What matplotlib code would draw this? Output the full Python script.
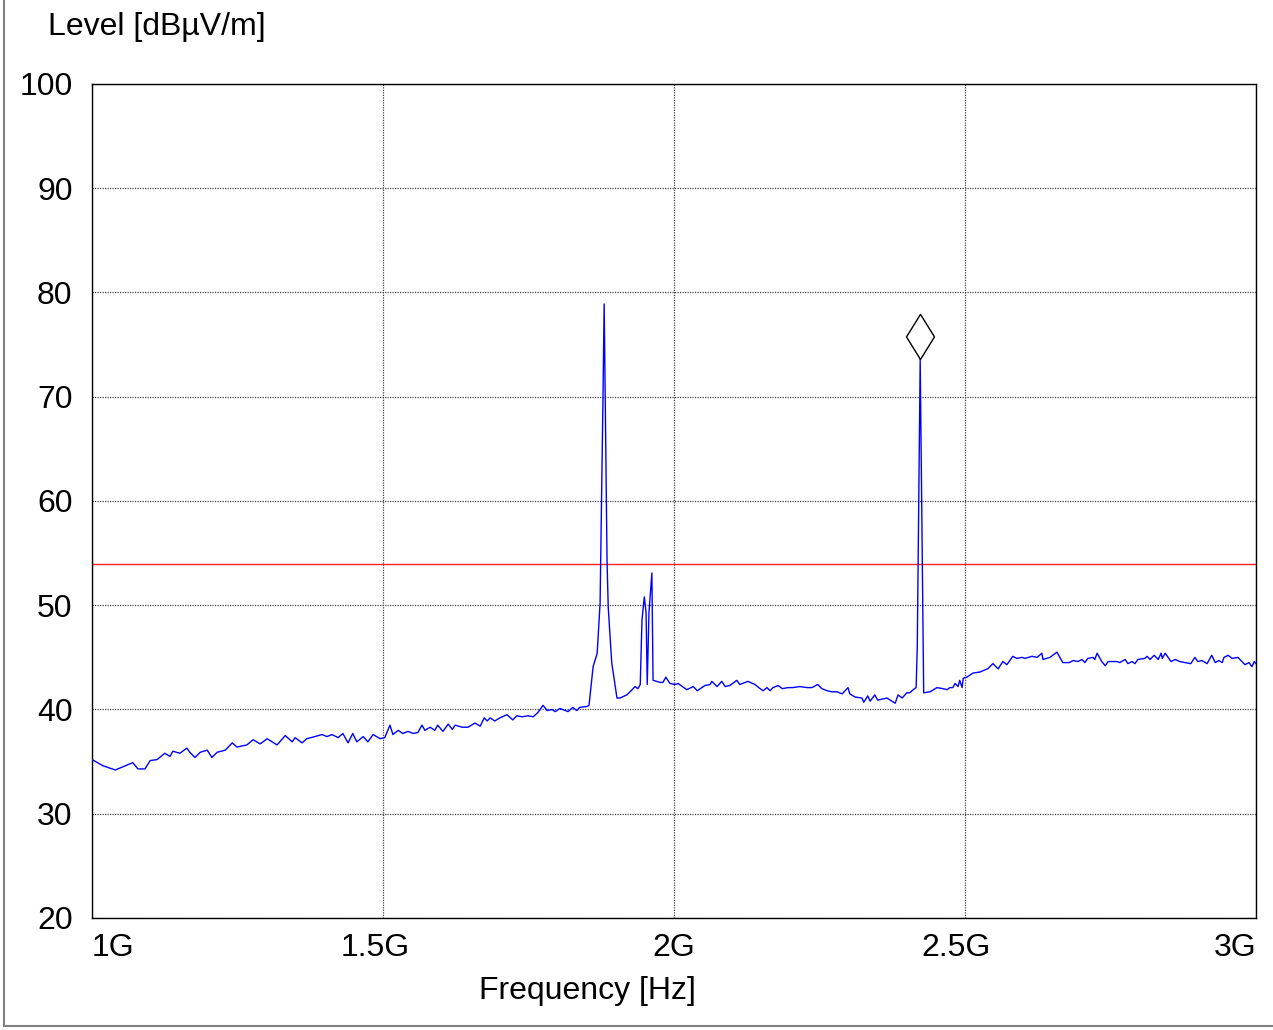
import numpy as np
import matplotlib
matplotlib.use("Agg")
import matplotlib.pyplot as plt
from matplotlib.path import Path
from matplotlib.lines import Line2D
import matplotlib.transforms as mtransforms

plt.rcParams['font.family'] = ['Liberation Sans', 'DejaVu Sans']

# measured spectrum: frequency [MHz] / level [dBuV/m]
freq_mhz = [
    1000, 1019, 1040, 1053, 1070, 1079, 1091, 1100, 1112, 1125, 1134, 1139, 1151, 1163, 1168, 1177, 1186, 1198,
    1206, 1215, 1229, 1241, 1249, 1266, 1277, 1289, 1301, 1318, 1332, 1344, 1349, 1361, 1369, 1383, 1395,
    1404, 1412, 1423, 1431, 1440, 1448, 1455, 1466, 1474, 1483, 1495, 1503, 1512, 1517, 1526, 1534, 1543,
    1552, 1560, 1567, 1572, 1581, 1589, 1594, 1603, 1612, 1619, 1624, 1636, 1646, 1658, 1667, 1674, 1679,
    1684, 1692, 1701, 1713, 1723, 1730, 1739, 1749, 1758, 1766, 1775, 1782, 1790, 1796, 1804, 1813, 1818,
    1826, 1833, 1838, 1851, 1854, 1861, 1868, 1873, 1878, 1880, 1885, 1887, 1893, 1902, 1907, 1919, 1928,
    1933, 1938, 1942, 1945, 1949, 1952, 1954, 1957, 1962, 1964, 1976, 1981, 1986, 1993, 2002, 2007, 2022,
    2033, 2040, 2053, 2062, 2065, 2074, 2082, 2088, 2096, 2108, 2113, 2127, 2139, 2148, 2153, 2160, 2165,
    2170, 2179, 2186, 2196, 2204, 2216, 2229, 2237, 2247, 2254, 2263, 2271, 2280, 2289, 2299, 2302, 2311,
    2323, 2326, 2333, 2337, 2345, 2350, 2366, 2380, 2385, 2392, 2400, 2405, 2411, 2416, 2418, 2423, 2429,
    2440, 2452, 2462, 2469, 2474, 2479, 2483, 2488, 2491, 2495, 2497, 2503, 2514, 2526, 2534, 2539, 2548,
    2557, 2565, 2572, 2582, 2589, 2598, 2603, 2615, 2624, 2632, 2634, 2646, 2658, 2668, 2679, 2686, 2694,
    2701, 2706, 2711, 2720, 2723, 2727, 2735, 2741, 2746, 2761, 2766, 2775, 2780, 2787, 2792, 2797, 2809,
    2813, 2818, 2825, 2832, 2837, 2839, 2844, 2854, 2861, 2869, 2878, 2888, 2895, 2900, 2907, 2916, 2924,
    2930, 2936, 2942, 2945, 2952, 2959, 2969, 2981, 2988, 2993, 2997, 3000,
]
level_db = [
    35.2, 34.6, 34.2, 34.5, 34.9, 34.3, 34.3, 35.1, 35.2, 35.8, 35.5, 36.0, 35.8, 36.3, 35.9, 35.4, 35.9, 36.1,
    35.4, 35.9, 36.1, 36.8, 36.4, 36.6, 37.1, 36.7, 37.2, 36.6, 37.5, 36.9, 37.3, 36.8, 37.2, 37.4, 37.6,
    37.4, 37.6, 37.3, 37.7, 36.8, 37.7, 36.9, 37.4, 36.9, 37.6, 37.2, 37.3, 38.5, 37.6, 38.0, 37.7, 37.9,
    37.7, 37.8, 38.5, 38.0, 38.3, 38.0, 38.5, 37.9, 38.6, 38.1, 38.5, 38.3, 38.3, 38.7, 38.4, 39.2, 38.9,
    39.2, 38.9, 39.2, 39.5, 39.0, 39.4, 39.3, 39.4, 39.3, 39.7, 40.4, 39.9, 40.0, 39.8, 40.1, 39.9, 39.8,
    40.2, 39.9, 40.2, 40.3, 40.4, 44.1, 45.4, 50.2, 70.0, 78.9, 54.1, 49.8, 44.5, 41.1, 41.1, 41.4, 41.9,
    42.2, 42.0, 42.4, 48.6, 50.8, 49.3, 42.4, 49.3, 53.1, 42.8, 42.6, 42.6, 43.1, 42.5, 42.4, 42.5, 41.9,
    42.2, 41.8, 42.3, 42.4, 42.7, 42.2, 42.7, 42.2, 42.3, 42.8, 42.4, 42.7, 42.4, 42.0, 41.8, 42.1, 41.8,
    42.1, 42.3, 42.0, 42.1, 42.1, 42.2, 42.1, 42.1, 42.4, 42.0, 41.8, 41.7, 41.7, 41.5, 42.1, 41.5, 41.2,
    41.1, 40.7, 41.3, 40.8, 41.4, 40.9, 41.1, 40.6, 41.4, 41.1, 41.6, 41.6, 41.9, 42.1, 46.0, 73.6, 41.6,
    41.7, 42.1, 42.0, 41.9, 42.1, 42.1, 42.5, 42.2, 42.8, 42.1, 43.0, 43.1, 43.5, 43.6, 43.8, 43.9, 44.4,
    43.9, 44.6, 44.3, 45.1, 44.9, 45.0, 44.9, 45.1, 45.0, 45.4, 44.8, 45.0, 45.5, 44.5, 44.5, 44.7, 44.6,
    44.8, 44.5, 44.9, 45.0, 44.8, 45.4, 44.6, 44.2, 44.6, 44.6, 44.5, 44.8, 44.4, 44.6, 44.4, 44.8, 44.9,
    45.1, 44.8, 45.2, 44.8, 45.4, 44.9, 45.4, 44.6, 44.8, 44.6, 44.5, 44.4, 45.0, 44.6, 44.7, 44.4, 45.2,
    44.5, 44.7, 44.5, 45.0, 45.2, 44.9, 45.0, 44.3, 44.5, 44.1, 44.6, 44.4,
]

limit_db = 54.0
marker_mhz = 2423
marker_db = 73.6

x_ticks = [1000, 1500, 2000, 2500, 3000]
x_labels = ['1G', '1.5G', '2G', '2.5G', '3G']
y_ticks = [20, 30, 40, 50, 60, 70, 80, 90, 100]

FS = 23

fig = plt.figure(figsize=(12.73, 10.30), dpi=100)
ax = fig.add_axes([92 / 1273, 1 - 918 / 1030, 1164 / 1273, 834 / 1030])

ax.plot(freq_mhz, level_db, color='#0000ff', lw=1.0, zorder=3)
ax.axhline(limit_db, color='#ff2020', lw=1.0, zorder=2)

# diamond marker sitting on top of the peak
diamond = Path([(0, 0), (0.62, 1), (0, 2), (-0.62, 1), (0, 0)],
               [Path.MOVETO, Path.LINETO, Path.LINETO, Path.LINETO, Path.CLOSEPOLY])
ax.plot([marker_mhz], [marker_db], linestyle='none', marker=diamond, markersize=65,
        markerfacecolor='white', markeredgecolor='black', markeredgewidth=1.0, zorder=4)

ax.set_xlim(1000, 3000)
ax.set_ylim(20, 100)
ax.set_xticks(x_ticks)
ax.set_xticklabels(x_labels)
ax.set_yticks(y_ticks)
ax.tick_params(length=0, labelsize=FS, colors='black')
ax.tick_params(axis='y', pad=14)
ax.tick_params(axis='x', pad=10.5)

# shift first/last labels inside the axis, nudge middle ones
shifts = [('left', 0), ('center', -8), ('center', 0), ('center', -9), ('right', 0)]
for lab, (ha, dx) in zip(ax.get_xticklabels(), shifts):
    lab.set_ha(ha)
    lab.set_transform(lab.get_transform() + mtransforms.ScaledTranslation(dx / 100, 0, fig.dpi_scale_trans))

ax.grid(True, color='#444444', linestyle=(0, (1, 1)), lw=0.9)
for s in ax.spines.values():
    s.set_color('black')
    s.set_linewidth(1.0)

fig.text(48 / 1273, 1 - 27 / 1030, 'Level [dBµV/m]', fontsize=FS, ha='left', va='center')
fig.text(587 / 1273, 1 - 991 / 1030, 'Frequency [Hz]', fontsize=FS, ha='center', va='center')

# outer frame (left and bottom edges)
fig.add_artist(Line2D([4 / 1273, 4 / 1273], [1 - 1026 / 1030, 1.0], color='#808080', lw=1.5))
fig.add_artist(Line2D([4 / 1273, 1.0], [1 - 1026 / 1030, 1 - 1026 / 1030], color='#808080', lw=1.5))

fig.savefig('out.png', dpi=100)
